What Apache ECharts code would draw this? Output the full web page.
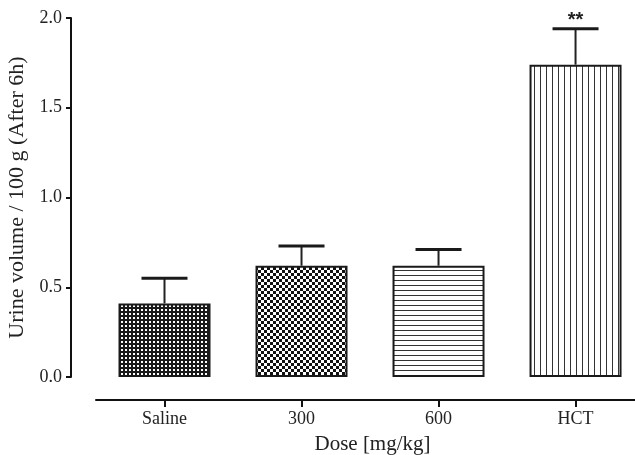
<!DOCTYPE html>
<html><head><meta charset="utf-8">
<script src="https://cdn.jsdelivr.net/npm/echarts@6/dist/echarts.min.js"></script>
<style>html,body{margin:0;padding:0;background:#fff}#c{width:635px;height:455px}</style>
</head><body><div id="c"></div>
<script>
const categories = ['Saline', '300', '600', 'HCT'];
const means = [0.41, 0.62, 0.62, 1.74];
const errTops = [0.55, 0.73, 0.71, 1.94];
const annotations = ['', '', '', '**'];

function makePattern(kind) {
  const c = document.createElement('canvas');
  const ctx = c.getContext('2d');
  if (kind === 'grid') {
    c.width = 4; c.height = 4;
    ctx.fillStyle = '#1a1a1a'; ctx.fillRect(0, 0, 4, 4);
    ctx.fillStyle = '#fff'; ctx.fillRect(1, 1, 2, 2);
  } else if (kind === 'checker') {
    c.width = 6; c.height = 6;
    ctx.fillStyle = '#fff'; ctx.fillRect(0, 0, 6, 6);
    ctx.fillStyle = '#111'; ctx.fillRect(0, 0, 3, 3); ctx.fillRect(3, 3, 3, 3);
  } else if (kind === 'hlines') {
    c.width = 4; c.height = 5;
    ctx.fillStyle = '#fff'; ctx.fillRect(0, 0, 4, 5);
    ctx.fillStyle = '#333'; ctx.fillRect(0, 0, 4, 1);
  } else {
    c.width = 6; c.height = 4;
    ctx.fillStyle = '#fff'; ctx.fillRect(0, 0, 6, 4);
    ctx.fillStyle = '#333'; ctx.fillRect(0, 0, 1, 4);
  }
  return { image: c, repeat: 'repeat' };
}
const patterns = ['grid', 'checker', 'hlines', 'vlines'];

const font = 'Liberation Serif';
const chart = echarts.init(document.getElementById('c'), null, { renderer: 'canvas' });
chart.setOption({
  animation: false,
  backgroundColor: '#fff',
  grid: { left: 96, right: 0, top: 18, bottom: 78, outerBoundsMode: 'none', containLabel: false },
  xAxis: {
    type: 'value', min: -0.5, max: 3.434, offset: 23,
    name: 'Dose [mg/kg]', nameLocation: 'middle', nameGap: 34,
    nameTextStyle: { fontFamily: font, fontSize: 21, color: '#222', padding: [0, 0, 0, 14] },
    axisLine: { show: true, onZero: false, lineStyle: { color: '#111', width: 2 } },
    axisTick: { show: true, customValues: [0, 1, 2, 3], length: 7, lineStyle: { color: '#111', width: 2 } },
    axisLabel: { customValues: [0, 1, 2, 3], formatter: v => categories[Math.round(v)], fontFamily: font, fontSize: 18, color: '#222', margin: 10 },
    splitLine: { show: false }
  },
  yAxis: {
    type: 'value', min: 0, max: 2, interval: 0.5, offset: 25,
    name: 'Urine volume / 100 g (After 6h)', nameLocation: 'middle', nameGap: 43,
    nameTextStyle: { fontFamily: font, fontSize: 22, color: '#222' },
    axisLine: { show: true, onZero: false, lineStyle: { color: '#111', width: 2 } },
    axisTick: { show: true, length: 5, lineStyle: { color: '#111', width: 2 } },
    axisLabel: { formatter: v => v.toFixed(1), fontFamily: font, fontSize: 18, color: '#222', margin: 9 },
    splitLine: { show: false }
  },
  series: [
    {
      type: 'bar', barWidth: 92,
      data: means.map((v, i) => ({ value: [i, v], itemStyle: { color: makePattern(patterns[i]), borderColor: '#1a1a1a', borderWidth: 2 } }))
    },
    {
      type: 'custom', z: 1,
      data: means.map((v, i) => [i, v, errTops[i]]),
      renderItem: function (params, api) {
        const i = api.value(0);
        const base = api.coord([i, api.value(1)]);
        const top = api.coord([i, api.value(2)]);
        const half = 23;
        const children = [
          { type: 'line', shape: { x1: base[0], y1: base[1], x2: top[0], y2: top[1] }, style: { stroke: '#222', lineWidth: 2 } },
          { type: 'line', shape: { x1: top[0] - half, y1: top[1], x2: top[0] + half, y2: top[1] }, style: { stroke: '#1a1a1a', lineWidth: 3 } }
        ];
        const ann = annotations[params.dataIndex];
        if (ann) {
          children.push({ type: 'text', style: { text: ann, x: top[0], y: top[1] - 8, align: 'center', verticalAlign: 'middle', font: 'bold 20px "Liberation Sans"', fill: '#222' } });
        }
        return { type: 'group', children: children };
      }
    }
  ]
});
</script></body></html>
